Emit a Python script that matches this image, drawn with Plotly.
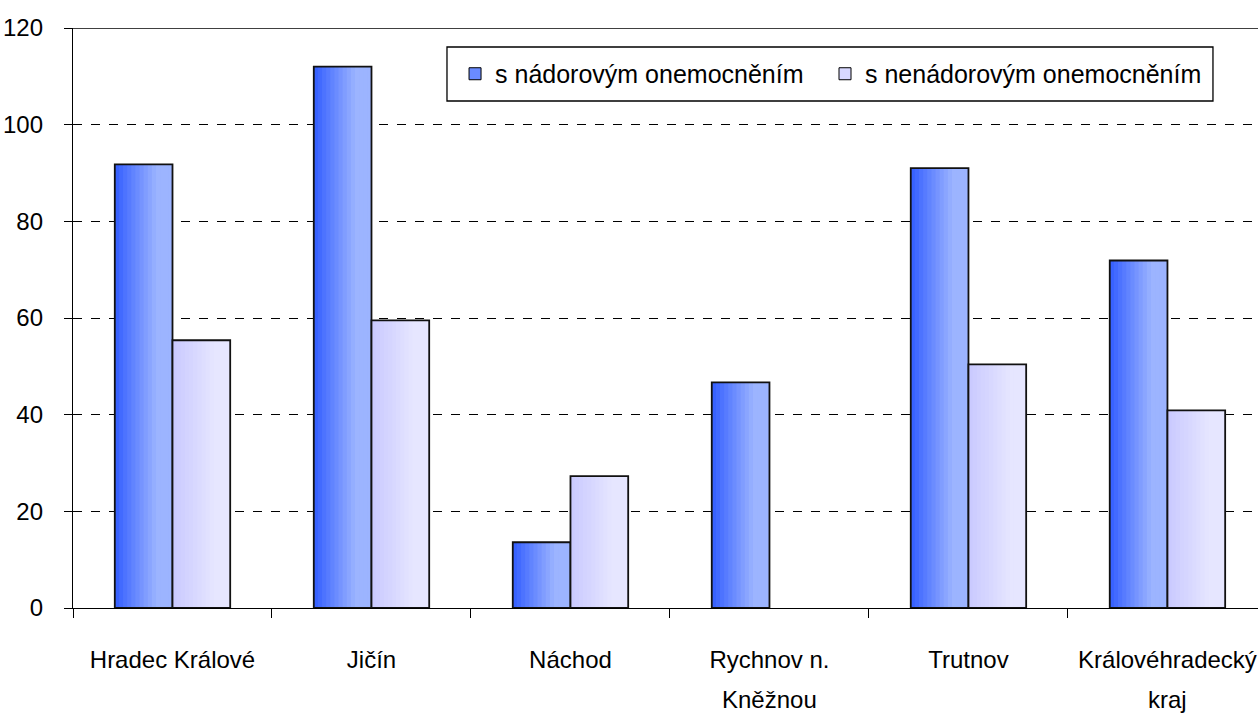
import plotly.graph_objects as go

categories = ["Hradec Králové", "Jičín", "Náchod", "Rychnov n.", "Trutnov", "Královéhradecký"]
second_lines = ["", "", "", "Kněžnou", "", "kraj"]
series_names = ["s nádorovým onemocněním", "s nenádorovým onemocněním"]
tumor = [91.8, 112.0, 13.6, 46.7, 91.0, 71.9]
non_tumor = [55.4, 59.5, 27.3, None, 50.4, 40.9]
y_ticks = [0, 20, 40, 60, 80, 100, 120]

FONT = "Liberation Sans, Arial, sans-serif"
W = 0.29
N = 14

def lerp(c1, c2, t):
    return "rgb(%d,%d,%d)" % tuple(round(a + (b - a) * t) for a, b in zip(c1, c2))

series = [
    (tumor, -W, (56, 98, 255), (156, 180, 255), lerp((56, 98, 255), (156, 180, 255), 0.5)),
    (non_tumor, 0.0, (202, 202, 255), (230, 230, 255), lerp((202, 202, 255), (230, 230, 255), 0.5)),
]

fig = go.Figure()

# legend entries (each in its own legend box for exact placement)
for i, ((vals, off, c1, c2, mid), name) in enumerate(zip(series, series_names)):
    fig.add_trace(go.Bar(x=categories, y=[None] * len(categories), name=name,
                         marker=dict(color=mid, line=dict(color="black", width=1)),
                         showlegend=True, legend="legend" if i == 0 else "legend2"))

for vals, off, c1, c2, mid in series:
    for k in range(N):
        t = min(1.0, k / (N - 1) / 0.75)
        fig.add_trace(go.Bar(x=categories, y=vals, offset=off + k * W / N, width=W - k * W / N,
                             marker=dict(color=lerp(c1, c2, t), line=dict(width=0)),
                             showlegend=False, hoverinfo="skip"))
    fig.add_trace(go.Bar(x=categories, y=vals, offset=off, width=W,
                         marker=dict(color="rgba(0,0,0,0)", line=dict(color="#111", width=1.8)),
                         showlegend=False))

for cat, extra in zip(categories, second_lines):
    if extra:
        fig.add_annotation(x=cat, xref="x", y=-0.158, yref="paper", text=extra, showarrow=False,
                           font=dict(family=FONT, size=24, color="black"), yanchor="middle")

fig.add_shape(type="line", xref="paper", yref="y", x0=0, x1=1, y0=120, y1=120,
              line=dict(color="black", width=1.3))
# legend frame
fig.add_shape(type="rect", xref="paper", yref="paper", x0=0.3156, x1=0.962, y0=0.8741, y1=0.9672,
              line=dict(color="black", width=1.3), fillcolor="white", layer="above")

legend_common = dict(orientation="h", y=0.9207, xanchor="left", yanchor="middle",
                     borderwidth=0, bgcolor="rgba(0,0,0,0)",
                     font=dict(family=FONT, size=25, color="black"), itemwidth=30)

fig.update_layout(
    width=1258, height=713,
    margin=dict(l=73, r=0, t=28, b=105),
    paper_bgcolor="white", plot_bgcolor="white",
    barmode="overlay",
    font=dict(family=FONT, size=24, color="black"),
    legend=dict(x=0.3224, **legend_common),
    legend2=dict(x=0.6346, **legend_common),
    xaxis=dict(type="category", categoryorder="array", categoryarray=categories,
               range=[-0.5, 5.455], tickson="boundaries", ticks="outside", ticklen=9,
               tickcolor="black", tickwidth=1.3, showline=True, linecolor="black", linewidth=1.3,
               showgrid=False, ticklabelstandoff=30,
               tickfont=dict(family=FONT, size=24, color="black")),
    yaxis=dict(range=[0, 120], tickvals=y_ticks, ticks="outside", ticklen=8, tickcolor="black",
               tickwidth=1.3, showline=True, linecolor="black", linewidth=1.3,
               showgrid=True, gridcolor="black", gridwidth=1, griddash="dash",
               zeroline=False, ticklabelstandoff=16,
               tickfont=dict(family=FONT, size=24, color="black")),
)

fig.write_html("out.html", config={"displayModeBar": False},
               post_script="document.body.style.margin='0';")
